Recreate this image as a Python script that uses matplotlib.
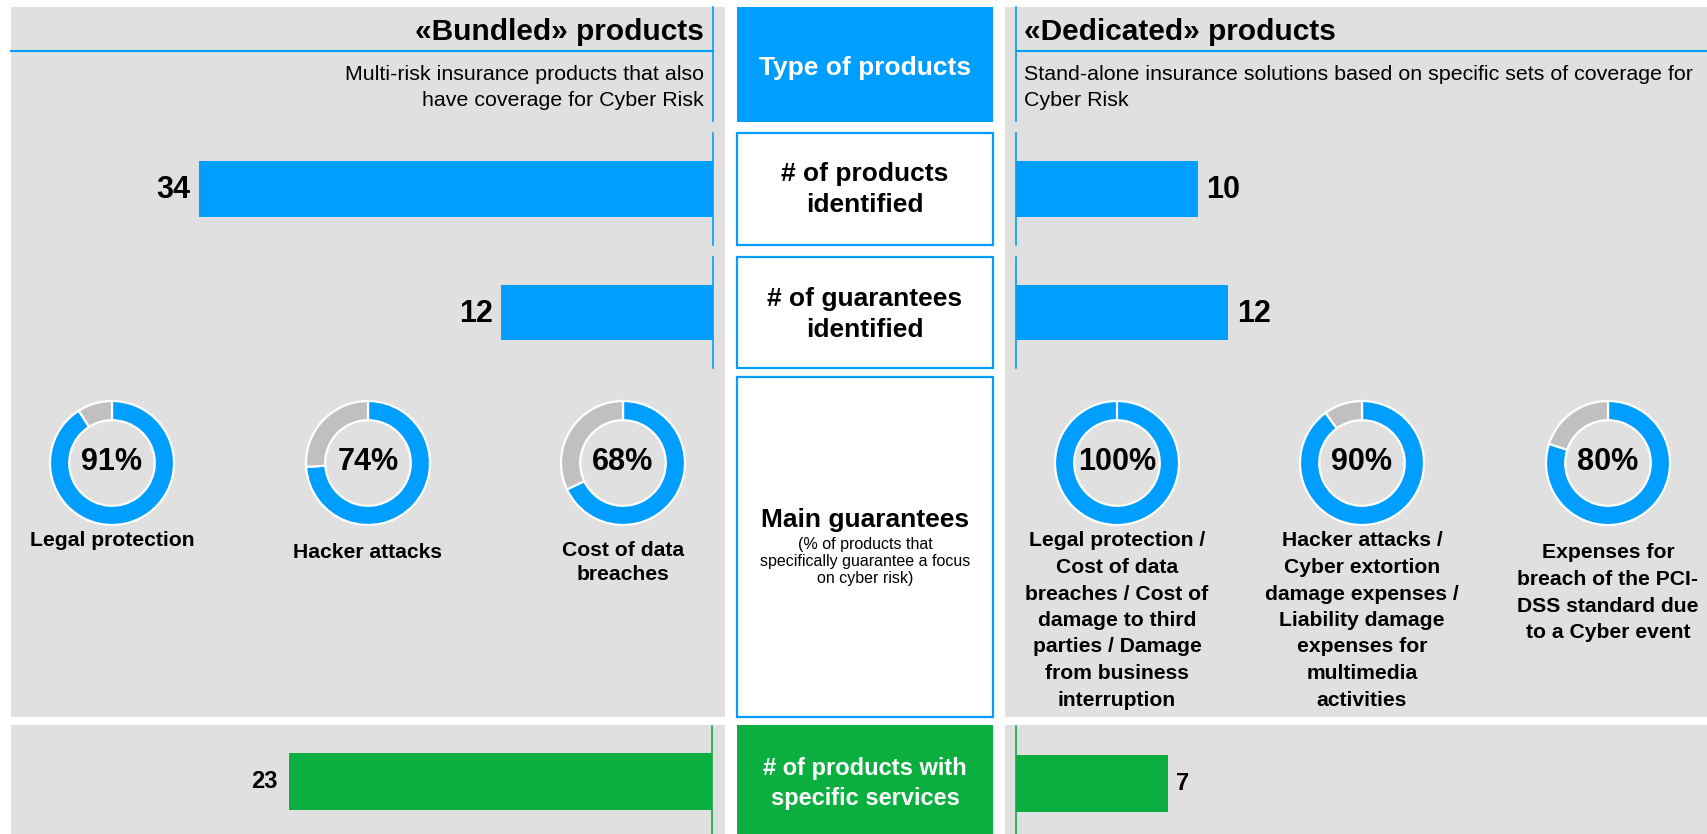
import matplotlib
matplotlib.use("Agg")
import matplotlib.pyplot as plt
from matplotlib.patches import Rectangle

plt.rcParams['font.family'] = ['Liberation Sans', 'DejaVu Sans']

# ---------------- data ----------------
row_categories = ["# of products\nidentified", "# of guarantees\nidentified"]
bundled_counts = [34, 12]
dedicated_counts = [10, 12]
services_category = "# of products with\nspecific services"
services_bundled = 23
services_dedicated = 7

bundled_title = "«Bundled» products"
bundled_subtitle = "Multi-risk insurance products that also\nhave coverage for Cyber Risk"
dedicated_title = "«Dedicated» products"
dedicated_subtitle = "Stand-alone insurance solutions based on specific sets of coverage for\nCyber Risk"
center_header = "Type of products"
guarantee_header = "Main guarantees"
guarantee_note = "(% of products that\nspecifically guarantee a focus\non cyber risk)"

bundled_guarantee_labels = ["Legal protection", "Hacker attacks", "Cost of data\nbreaches"]
bundled_guarantee_pct = [91, 74, 68]
dedicated_guarantee_labels = [
    "Legal protection /\nCost of data\nbreaches / Cost of\ndamage to third\nparties / Damage\nfrom business\ninterruption",
    "Hacker attacks /\nCyber extortion\ndamage expenses /\nLiability damage\nexpenses for\nmultimedia\nactivities",
    "Expenses for\nbreach of the PCI-\nDSS standard due\nto a Cyber event",
]
dedicated_guarantee_pct = [100, 90, 80]

# ---------------- style / layout ----------------
W, H = 1708, 834
BLUE = '#009EFF'
GREEN = '#0AAF40'
PANEL = '#E0E0E0'
RINGGRAY = '#C0C0C0'

fig = plt.figure(figsize=(W / 100, H / 100), dpi=100)
fig.patch.set_facecolor('white')


def px_axes(x0, y0, x1, y1):
    a = fig.add_axes([x0 / W, 1 - y1 / H, (x1 - x0) / W, (y1 - y0) / H])
    a.patch.set_visible(False)
    a.axis('off')
    return a


ax0 = px_axes(0, 0, W, H)
ax0.set_xlim(0, W)
ax0.set_ylim(H, 0)


def rect(x0, y0, x1, y1, fc, ec='none', lw=0):
    ax0.add_patch(Rectangle((x0, y0), x1 - x0, y1 - y0, facecolor=fc,
                            edgecolor=ec, linewidth=lw))


def lines_text(x, y0, text, step, ha, size, weight='normal', color='black'):
    for i, line in enumerate(text.split('\n')):
        ax0.text(x, y0 + i * step, line, ha=ha, va='center', fontsize=size,
                 fontweight=weight, color=color)


# panels
LX0, LX1 = 11, 725
RX0, RX1 = 1005, W
rect(LX0, 7, LX1, 717, PANEL)
rect(RX0, 7, RX1, 717, PANEL)
rect(LX0, 725, LX1, H, PANEL)
rect(RX0, 725, RX1, H, PANEL)

# center boxes
CX0, CX1 = 737, 993
CXM = (CX0 + CX1) / 2
rect(CX0, 7, CX1, 122, BLUE)
row_boxes = [(133, 245), (257, 368)]
for (y0, y1) in row_boxes:
    rect(CX0, y0, CX1, y1, 'white', BLUE, 1.6)
rect(CX0, 377, CX1, 717, 'white', BLUE, 1.6)
rect(CX0, 725, CX1, H + 5, GREEN)

LEFT_EDGE, RIGHT_EDGE = 713, 1016

# header lines
ax0.plot([LX0, LEFT_EDGE], [51, 51], color=BLUE, lw=1.5)
ax0.plot([LEFT_EDGE, LEFT_EDGE], [7, 121], color=BLUE, lw=1.2)
ax0.plot([RIGHT_EDGE, RX1], [51, 51], color=BLUE, lw=1.5)
ax0.plot([RIGHT_EDGE, RIGHT_EDGE], [7, 121], color=BLUE, lw=1.2)

# header texts
ax0.text(704, 32, bundled_title, ha='right', va='center', fontsize=21.5, fontweight='bold')
lines_text(704, 74, bundled_subtitle, 26, 'right', 15.4)
ax0.text(1024, 32, dedicated_title, ha='left', va='center', fontsize=21.5, fontweight='bold')
lines_text(1024, 74, dedicated_subtitle, 26, 'left', 15.4)
ax0.text(CXM, 68, center_header, ha='center', va='center', fontsize=19,
         fontweight='bold', color='white')

# row category texts
row_text_y = [174, 299]
for cat, ty in zip(row_categories, row_text_y):
    lines_text(CXM, ty, cat, 31, 'center', 19, 'bold')

# guarantees header
ax0.text(CXM, 520, guarantee_header, ha='center', va='center', fontsize=19, fontweight='bold')
lines_text(CXM, 545, guarantee_note, 16.5, 'center', 11.5)

# services text
lines_text(CXM, 769, services_category, 29, 'center', 17, 'bold', 'white')

# ---------------- bars ----------------
bar_px_per_unit_left = [15.12, 17.67]
bar_px_per_unit_right = [18.2, 17.7]
bar_height_frac = 56 / 112

for i, ((y0, y1), lv, rv) in enumerate(zip(row_boxes, bundled_counts, dedicated_counts)):
    ax0.plot([LEFT_EDGE, LEFT_EDGE], [y0, y1], color=BLUE, lw=1.2)
    ax0.plot([RIGHT_EDGE, RIGHT_EDGE], [y0, y1], color=BLUE, lw=1.2)
    # left bar (grows to the left)
    axl = px_axes(LX0, y0, LEFT_EDGE, y1)
    axl.set_xlim((LEFT_EDGE - LX0) / bar_px_per_unit_left[i], 0)
    axl.set_ylim(-0.5, 0.5)
    axl.barh([0], [lv], height=bar_height_frac, color=BLUE)
    axl.annotate(str(lv), (lv, 0), xytext=(-6, -1), textcoords='offset points',
                 ha='right', va='center', fontsize=22, fontweight='bold')
    # right bar
    axr = px_axes(RIGHT_EDGE, y0, RX1, y1)
    axr.set_xlim(0, (RX1 - RIGHT_EDGE) / bar_px_per_unit_right[i])
    axr.set_ylim(-0.5, 0.5)
    axr.barh([0], [rv], height=bar_height_frac, color=BLUE)
    axr.annotate(str(rv), (rv, 0), xytext=(6, -1), textcoords='offset points',
                 ha='left', va='center', fontsize=22, fontweight='bold')

# services bars
GL_EDGE = 712
ax0.plot([GL_EDGE, GL_EDGE], [726, H], color=GREEN, lw=1.2)
ax0.plot([RIGHT_EDGE, RIGHT_EDGE], [726, H], color=GREEN, lw=1.2)
axgl = px_axes(LX0, 725, GL_EDGE, 838)
axgl.set_xlim((GL_EDGE - LX0) / 18.4, 0)
axgl.set_ylim(-0.5, 0.5)
axgl.barh([0], [services_bundled], height=57 / 113, color=GREEN)
axgl.annotate(str(services_bundled), (services_bundled, 0), xytext=(-8, 0),
              textcoords='offset points', ha='right', va='center',
              fontsize=17, fontweight='bold')
axgr = px_axes(RIGHT_EDGE, 728, RX1, 839)
axgr.set_xlim(0, (RX1 - RIGHT_EDGE) / 21.7)
axgr.set_ylim(-0.5, 0.5)
axgr.barh([0], [services_dedicated], height=57 / 111, color=GREEN)
axgr.annotate(str(services_dedicated), (services_dedicated, 0), xytext=(6, 0),
              textcoords='offset points', ha='left', va='center',
              fontsize=17, fontweight='bold')

# ---------------- donuts ----------------
R = 62
DY = 463


def donut(cx, cy, pct):
    s = R * 1.03
    a = px_axes(cx - s, cy - s, cx + s, cy + s)
    a.pie([pct, 100 - pct], colors=[BLUE, RINGGRAY], startangle=90,
          counterclock=False, radius=1,
          wedgeprops=dict(width=0.31, edgecolor='white', linewidth=1.6))
    a.set_xlim(-1.03, 1.03)
    a.set_ylim(-1.03, 1.03)
    a.set_aspect('equal')
    a.text(0, 0.02, f"{pct}%", ha='center', va='center', fontsize=22, fontweight='bold')


left_cx = [112, 368, 623]
left_label_y = [541, 553, 550]
for cx, ly, lab, p in zip(left_cx, left_label_y, bundled_guarantee_labels, bundled_guarantee_pct):
    donut(cx, DY, p)
    lines_text(cx, ly, lab, 25, 'center', 15.2, 'bold')

right_cx = [1117, 1362, 1608]
right_label_y = [541, 541, 553]
for cx, ly, lab, p in zip(right_cx, right_label_y, dedicated_guarantee_labels, dedicated_guarantee_pct):
    donut(cx, DY, p)
    lines_text(cx, ly, lab, 26.5, 'center', 15.2, 'bold')

fig.savefig('out.png', dpi=100, facecolor='white')
